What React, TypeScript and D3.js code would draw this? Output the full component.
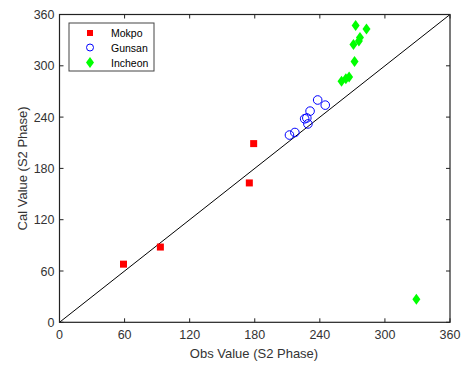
import React from "react";
import * as d3 from "d3";

const ticks = [0, 60, 120, 180, 240, 300, 360];
const mokpoObs = [59, 93, 175, 179];
const mokpoCal = [68, 88, 163, 209];
const gunsanObs = [212, 217, 226, 228, 229, 231, 238, 245];
const gunsanCal = [219, 222, 238, 239, 232, 247, 260, 254];
const incheonObs = [260, 264, 267, 272, 271, 277, 276, 273, 283, 329];
const incheonCal = [282, 285, 287, 305, 325, 333, 329, 347, 343, 27];

const W = 464, H = 365;
const L = 59.5, R = 450, T = 14.5, B = 322.3;
const font = "Liberation Sans, Arial, sans-serif";
const txt = "#333";

export default function App() {
  const x = d3.scaleLinear().domain([0, 360]).range([L, R]);
  const y = d3.scaleLinear().domain([0, 360]).range([B, T]);
  const diamond = (cx: number, cy: number) =>
    `M${cx},${cy - 5.5}L${cx + 4},${cy}L${cx},${cy + 5.5}L${cx - 4},${cy}Z`;
  return (
    <svg width={W} height={H} style={{ position: "absolute", left: 0, top: 0 }} fontFamily={font}>
      <rect x={0} y={0} width={W} height={H} fill="#fff" />
      <line x1={x(0)} y1={y(0)} x2={x(360)} y2={y(360)} stroke="#000" strokeWidth={1} />
      {mokpoObs.map((v, i) => (
        <rect key={"m" + i} x={x(v) - 3.5} y={y(mokpoCal[i]) - 3.5} width={7} height={7} fill="#ff0000" />
      ))}
      {gunsanObs.map((v, i) => (
        <circle key={"g" + i} cx={x(v)} cy={y(gunsanCal[i])} r={4.3} fill="none" stroke="#0000ff" strokeWidth={1} />
      ))}
      {incheonObs.map((v, i) => (
        <path key={"c" + i} d={diamond(x(v), y(incheonCal[i]))} fill="#00ff00" />
      ))}
      <rect x={L} y={T} width={R - L} height={B - T} fill="none" stroke="#222" strokeWidth={1.2} />
      {ticks.map((t) => (
        <g key={"t" + t}>
          <line x1={x(t)} x2={x(t)} y1={B} y2={B - 4} stroke="#222" />
          <line x1={x(t)} x2={x(t)} y1={T} y2={T + 4} stroke="#222" />
          <line x1={L} x2={L + 4} y1={y(t)} y2={y(t)} stroke="#222" />
          <line x1={R} x2={R - 4} y1={y(t)} y2={y(t)} stroke="#222" />
          <text x={x(t)} y={B + 17} textAnchor="middle" fontSize={12.5} fill={txt}>{t}</text>
          <text x={L - 5} y={y(t) + 4.5} textAnchor="end" fontSize={12.5} fill={txt}>{t}</text>
        </g>
      ))}
      <text x={254} y={358} textAnchor="middle" fontSize={13} fill={txt}>Obs Value (S2 Phase)</text>
      <text transform={`translate(27,${(T + B) / 2}) rotate(-90)`} textAnchor="middle" fontSize={13} fill={txt}>Cal Value (S2 Phase)</text>
      <rect x={69} y={23} width={85} height={48} fill="#fff" stroke="#444" strokeWidth={1} />
      <rect x={87} y={30} width={6} height={6} fill="#ff0000" />
      <text x={111} y={37} fontSize={10.5} fill="#000">Mokpo</text>
      <circle cx={90} cy={47.5} r={3.5} fill="none" stroke="#0000ff" />
      <text x={111} y={51.5} fontSize={10.5} fill="#000">Gunsan</text>
      <path d={diamond(90, 62.5)} fill="#00ff00" />
      <text x={111} y={66.5} fontSize={10.5} fill="#000">Incheon</text>
    </svg>
  );
}
